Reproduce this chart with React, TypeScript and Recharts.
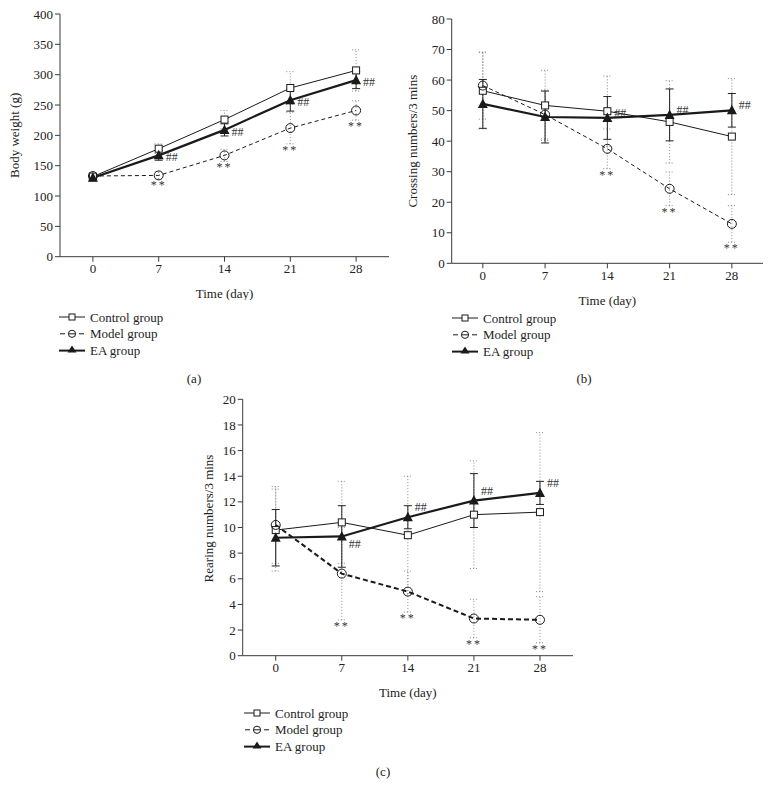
import React from "react";
import { LineChart, Line, XAxis, YAxis, ErrorBar, LabelList } from "recharts";

const days = [0, 7, 14, 21, 28];

// (a) body weight
const weightControl = [132, 178, 226, 278, 307];
const weightControlSd = [6, 8, 15, 27, 34];
const weightModel = [133, 134, 167, 212, 241];
const weightModelSd = [5, 6, 10, 26, 16];
const weightEA = [130, 167, 209, 258, 291];
const weightEASd = [5, 8, 10, 18, 14];
const weightStars = ["", "**", "**", "**", "**"];
const weightHash = ["", "##", "##", "##", "##"];

// (b) crossing numbers
const crossControl = [56.5, 51.7, 49.8, 46.3, 41.5];
const crossControlSd = [12.5, 11.5, 11.5, 13.5, 19];
const crossModel = [58.2, 48.7, 37.5, 24.4, 12.9];
const crossModelSd = [11, 8, 6.5, 5.5, 6];
const crossEA = [52.2, 47.9, 47.6, 48.6, 50.1];
const crossEASd = [8, 8.5, 7, 8.5, 5.5];
const crossStars = ["", "", "**", "**", "**"];
const crossHash = ["", "", "##", "##", "##"];

// (c) rearing numbers
const rearControl = [9.8, 10.4, 9.4, 11.0, 11.2];
const rearControlSd = [3.2, 3.2, 4.6, 4.2, 6.2];
const rearModel = [10.2, 6.4, 5.0, 2.9, 2.8];
const rearModelSd = [3, 3.6, 1.6, 1.5, 1.8];
const rearEA = [9.2, 9.3, 10.8, 12.1, 12.7];
const rearEASd = [2.2, 2.4, 0.9, 2.1, 0.9];
const rearStars = ["", "**", "**", "**", "**"];
const rearHash = ["", "##", "##", "##", "##"];

const weightTicks = [0, 50, 100, 150, 200, 250, 300, 350, 400];
const crossTicks = [0, 10, 20, 30, 40, 50, 60, 70, 80];
const rearTicks = [0, 2, 4, 6, 8, 10, 12, 14, 16, 18, 20];

const FONT = "'Liberation Serif', 'DejaVu Serif', serif";
const INK = "#1a1a1a";
const AXIS = "#3a3a3a";
const TEXT = "#222";

function buildRows(c: number[], cs: number[], m: number[], ms: number[], e: number[], es: number[], stars: string[], hash: string[]) {
  return days.map((day, i) => ({
    day,
    control: c[i],
    controlSd: cs[i],
    model: m[i],
    modelSd: ms[i],
    modelLow: m[i] - ms[i],
    ea: e[i],
    eaSd: es[i],
    star: stars[i],
    hash: hash[i],
  }));
}

const squareDot = (p: any) => (
  <rect key={`sq${p.index}`} x={p.cx - 3.5} y={p.cy - 3.5} width={7} height={7} fill="#fff" stroke={INK} strokeWidth={1} />
);
const circleDot = (p: any) => (
  <circle key={`ci${p.index}`} cx={p.cx} cy={p.cy} r={4.5} fill="none" stroke={INK} strokeWidth={1} />
);
const triDot = (p: any) => (
  <path key={`tr${p.index}`} d={`M${p.cx},${p.cy - 5.5}L${p.cx + 5},${p.cy + 4}L${p.cx - 5},${p.cy + 4}Z`} fill={INK} />
);

type PanelProps = {
  rows: any[];
  yMax: number;
  yTicks: number[];
  yTitle: string;
  left: number;
  top: number;
  width: number;
  height: number;
  margin: { top: number; right: number; bottom: number; left: number };
  titleX: number;
  titleShift: number;
  modelWidth: number;
  modelDash: string;
  hashDy: (i: number) => number;
};

function Panel(props: PanelProps) {
  const { rows, yMax, yTicks, yTitle, left, top, width, height, margin, titleX, titleShift, modelWidth, modelDash, hashDy } = props;
  const tick = { fontSize: 13, fill: TEXT, fontFamily: FONT };
  const yLabel = (p: any) => {
    const vb = p.viewBox;
    const cx = vb.x + titleX;
    const cy = vb.y + vb.height / 2 + titleShift;
    return (
      <text
        x={cx}
        y={cy}
        transform={`rotate(-90, ${cx}, ${cy})`}
        textAnchor="middle"
        dominantBaseline="central"
        fontSize={13}
        fill={TEXT}
        fontFamily={FONT}
      >
        {yTitle}
      </text>
    );
  };
  return (
    <div style={{ position: "absolute", left, top }}>
      <LineChart width={width} height={height} data={rows} margin={margin}>
        <XAxis
          type="number"
          dataKey="day"
          domain={[-3.5, 31.5]}
          ticks={days}
          interval={0}
          allowDataOverflow
          height={30}
          tickSize={5}
          tick={tick}
          axisLine={{ stroke: AXIS }}
          tickLine={{ stroke: AXIS }}
          label={{ value: "Time (day)", position: "bottom", offset: 2, fontSize: 13, fill: TEXT, fontFamily: FONT }}
        />
        <YAxis
          type="number"
          domain={[0, yMax]}
          ticks={yTicks}
          interval={0}
          width={40}
          tickSize={5}
          tick={tick}
          axisLine={{ stroke: AXIS }}
          tickLine={{ stroke: AXIS }}
          label={{ content: yLabel }}
        />
        <Line dataKey="control" stroke={INK} strokeWidth={1} dot={squareDot} activeDot={false} isAnimationActive={false}>
          <ErrorBar dataKey="controlSd" direction="y" width={4} stroke="#8a8a8a" strokeWidth={1} strokeDasharray="1 2" />
        </Line>
        <Line dataKey="model" stroke={INK} strokeWidth={modelWidth} strokeDasharray={modelDash} dot={circleDot} activeDot={false} isAnimationActive={false}>
          <ErrorBar dataKey="modelSd" direction="y" width={4} stroke="#8a8a8a" strokeWidth={1} strokeDasharray="1 2" />
        </Line>
        <Line dataKey="modelLow" stroke="none" dot={false} activeDot={false} isAnimationActive={false}>
          <LabelList
            dataKey="star"
            content={(p: any) =>
              p.value ? (
                <text x={p.x} y={p.y + 10} textAnchor="middle" fontSize={12} fill="#333" fontFamily={FONT} letterSpacing={2}>
                  {p.value}
                </text>
              ) : null
            }
          />
        </Line>
        <Line dataKey="ea" stroke={INK} strokeWidth={2.2} dot={triDot} activeDot={false} isAnimationActive={false}>
          <ErrorBar dataKey="eaSd" direction="y" width={4} stroke="#222" strokeWidth={1} />
          <LabelList
            dataKey="hash"
            content={(p: any) =>
              p.value ? (
                <text x={p.x + 7} y={p.y + hashDy(p.index)} fontSize={12} fill="#333" fontFamily={FONT} dominantBaseline="central">
                  {p.value}
                </text>
              ) : null
            }
          />
        </Line>
      </LineChart>
    </div>
  );
}

function GroupLegend({ left, top }: { left: number; top: number }) {
  const rowGap = 16.8;
  const tx = 31;
  const text = { fontSize: 13, fill: TEXT, fontFamily: FONT, dominantBaseline: "central" as const };
  return (
    <svg style={{ position: "absolute", left, top: top - 8 }} width={130} height={52}>
      <g transform="translate(0,8)">
        <line x1={0} x2={26} y1={0} y2={0} stroke={INK} strokeWidth={1} />
        <rect x={10} y={-3} width={6} height={6} fill="#fff" stroke={INK} />
        <text x={tx} y={0} {...text}>Control group</text>
      </g>
      <g transform={`translate(0,${8 + rowGap})`}>
        <line x1={1} x2={6} y1={0} y2={0} stroke={INK} strokeWidth={1} />
        <line x1={20} x2={25} y1={0} y2={0} stroke={INK} strokeWidth={1} />
        <line x1={9.5} x2={16.5} y1={0} y2={0} stroke={INK} strokeWidth={1} />
        <circle cx={13} cy={0} r={3.6} fill="none" stroke={INK} />
        <text x={tx} y={0} {...text}>Model group</text>
      </g>
      <g transform={`translate(0,${8 + rowGap * 2})`}>
        <line x1={0} x2={26} y1={0} y2={0} stroke={INK} strokeWidth={2} />
        <path d="M13,-5L17.5,2L8.5,2Z" fill={INK} />
        <text x={tx} y={0} {...text}>EA group</text>
      </g>
    </svg>
  );
}

function PanelTag({ x, y, text }: { x: number; y: number; text: string }) {
  return (
    <div style={{ position: "absolute", left: x, top: y, transform: "translate(-50%, -50%)", fontFamily: FONT, fontSize: 13, color: TEXT }}>
      {text}
    </div>
  );
}

export default function App() {
  const weightRows = buildRows(weightControl, weightControlSd, weightModel, weightModelSd, weightEA, weightEASd, weightStars, weightHash);
  const crossRows = buildRows(crossControl, crossControlSd, crossModel, crossModelSd, crossEA, crossEASd, crossStars, crossHash);
  const rearRows = buildRows(rearControl, rearControlSd, rearModel, rearModelSd, rearEA, rearEASd, rearStars, rearHash);

  return (
    <div style={{ position: "absolute", left: 0, top: 0, width: 772, height: 798, background: "#fff", overflow: "hidden" }}>
      <Panel
        rows={weightRows}
        yMax={400}
        yTicks={weightTicks}
        yTitle="Body weight (g)"
        left={0}
        top={0}
        width={400}
        height={300}
        margin={{ top: 14, right: 11, bottom: 13.3, left: 20 }}
        titleX={-5}
        titleShift={0}
        modelWidth={1}
        modelDash="4 3"
        hashDy={() => 2}
      />
      <Panel
        rows={crossRows}
        yMax={80}
        yTicks={crossTicks}
        yTitle="Crossing numbers/3 mins"
        left={380}
        top={0}
        width={392}
        height={310}
        margin={{ top: 19, right: 9, bottom: 16.7, left: 31.7 }}
        titleX={1.3}
        titleShift={0}
        modelWidth={1}
        modelDash="4 3"
        hashDy={() => -5}
      />
      <Panel
        rows={rearRows}
        yMax={20}
        yTicks={rearTicks}
        yTitle="Rearing numbers/3 mins"
        left={180}
        top={380}
        width={420}
        height={320}
        margin={{ top: 19.3, right: 27, bottom: 14.3, left: 22.7 }}
        titleX={5.3}
        titleShift={-9}
        modelWidth={2}
        modelDash="5 3"
        hashDy={(i) => (rearEA[i] < rearControl[i] ? 8 : -10)}
      />
      <GroupLegend left={59} top={317} />
      <GroupLegend left={452} top={317.7} />
      <GroupLegend left={244} top={713.3} />
      <PanelTag x={194} y={379} text="(a)" />
      <PanelTag x={584} y={379} text="(b)" />
      <PanelTag x={383} y={772} text="(c)" />
    </div>
  );
}
